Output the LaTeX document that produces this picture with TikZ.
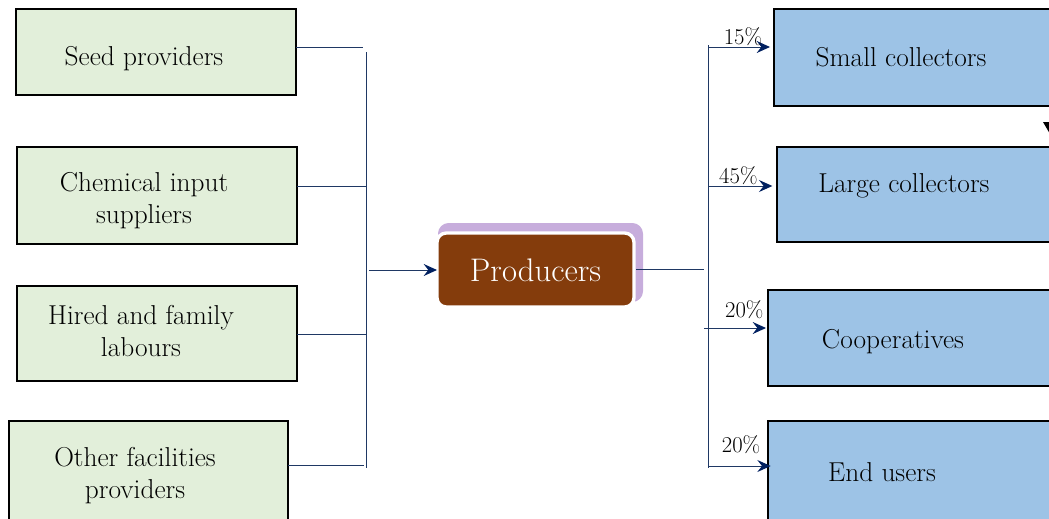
\documentclass[tikz,border=0pt]{standalone}
\usetikzlibrary{arrows.meta,calc}
\definecolor{boxgreen}{HTML}{E2EFDA}
\definecolor{boxblue}{HTML}{9DC3E6}
\definecolor{prodbrown}{HTML}{843C0C}
\definecolor{prodpurple}{HTML}{C7ADDC}
\definecolor{navy}{HTML}{1F3864}
\definecolor{tipnavy}{HTML}{002060}
\begin{document}
\begin{tikzpicture}[x=0.75pt,y=-0.75pt,
  srcbox/.style={draw=black,line width=2.2pt,fill=boxgreen,inner sep=0pt,outer sep=0pt,minimum width=210pt},
  dstbox/.style={draw=black,line width=2.2pt,fill=boxblue,inner sep=0pt,outer sep=0pt},
  lbl/.style={align=center,inner sep=0pt,font=\fontsize{20.5}{24}\selectfont},
  conn/.style={draw=navy,line width=0.75pt},
  arr/.style={conn,-{Stealth[length=10pt,width=9pt,inset=3.5pt,color=tipnavy]}},
  pct/.style={inner sep=0pt,font=\fontsize{17}{20}\selectfont}]
\useasboundingbox (0,0) rectangle (1049,518);

% source boxes
\node[srcbox,minimum height=64.5pt,
  label={[lbl,shift={(-9pt,-5.25pt)}]center:{Seed providers}}] (seed) at (156,52) {};
\node[srcbox,minimum height=72.75pt,
  label={[lbl,shift={(-9.75pt,-4.1pt)}]center:{Chemical input\\suppliers}}] (chem) at (157,195.5) {};
\node[srcbox,minimum height=71.25pt,
  label={[lbl,shift={(-12pt,1.9pt)}]center:{Hired and family\\labours}}] (hired) at (157,333.5) {};
\node[srcbox,minimum height=78pt,minimum width=209.25pt,
  label={[lbl,shift={(-10.1pt,-2.25pt)}]center:{Other facilities\\providers}}] (other) at (148.5,473) {};

% destination boxes
\node[dstbox,minimum width=244.5pt,minimum height=72.75pt,
  label={[lbl,shift={(-27pt,0.4pt)}]center:{Small collectors}}] (small) at (937,57.5) {};
\node[dstbox,minimum width=242.25pt,minimum height=71.25pt,
  label={[lbl,shift={(-25.9pt,6.4pt)}]center:{Large collectors}}] (large) at (938.5,194.5) {};
\node[dstbox,minimum width=249pt,minimum height=72pt,
  label={[lbl,shift={(-30.75pt,-3pt)}]center:{Cooperatives}}] (coop) at (934,338) {};
\node[dstbox,minimum width=249pt,minimum height=78pt,
  label={[lbl,shift={(-39pt,0.75pt)}]center:{End users}}] (endu) at (934,473) {};

% producers
\node[fill=prodpurple,rounded corners=8pt,inner sep=0pt,outer sep=0pt,
  minimum width=153.75pt,minimum height=59.25pt] (prodshadow) at (540.5,262.5) {};
\node[fill=prodbrown,draw=white,line width=2.5pt,rounded corners=7pt,inner sep=0pt,outer sep=0pt,
  minimum width=147.75pt,minimum height=55.5pt,text=white,
  font=\fontsize{24.5}{28}\selectfont] (prod) at (535.5,270) {Producers};

% left bus
\coordinate (lbtop) at (366,52);
\coordinate (lbbot) at (366,468);
\coordinate (lbout) at (369,270);
\draw[conn] ($(seed.east)+(0,-5)$) coordinate (s1) -- ($(s1 -| lbtop)+(-3,0)$);
\draw[conn] ($(chem.east)+(0,-9.5)$) coordinate (s2) -- (s2 -| lbtop);
\draw[conn] ($(hired.east)+(0,0.5)$) coordinate (s3) -- (s3 -| lbtop);
\draw[conn] ($(other.east)+(0,-8)$) coordinate (s4) -- ($(s4 -| lbtop)+(-2,0)$);
\draw[conn] (lbtop) -- (lbbot);
\draw[arr] (lbout) -- (prod.west);

% right bus
\coordinate (rjoin) at (704,269);
\coordinate (rtop) at (708,45);
\coordinate (rbot) at (708,468);
\draw[conn] ($(prod.east)+(2,-1)$) -- (rjoin);
\draw[conn] (rtop) -- (rbot);
\coordinate (a1) at (708,47);
\coordinate (a2) at (708,186);
\coordinate (a3) at (704,328);
\coordinate (a4) at (708,466);
\draw[arr,shorten >=3pt] (a1) -- (a1 -| small.west) node[pct,pos=0.53,yshift=7.5pt] {15\%};
\draw[arr,shorten >=3.5pt] (a2) -- (a2 -| large.west) node[pct,pos=0.44,yshift=7.5pt] {45\%};
\draw[arr,shorten >=1.5pt] (a3) -- (a3 -| coop.west) node[pct,pos=0.63,yshift=13.5pt] {20\%};
\draw[arr,shorten >=-2pt] (a4) -- (a4 -| endu.west) node[pct,pos=0.55,yshift=15.75pt] {20\%};

% partial arrow tip at right edge
\fill[black] (1043,122) -- (1057,122) -- (1050,134) -- cycle;
\end{tikzpicture}
\end{document}
